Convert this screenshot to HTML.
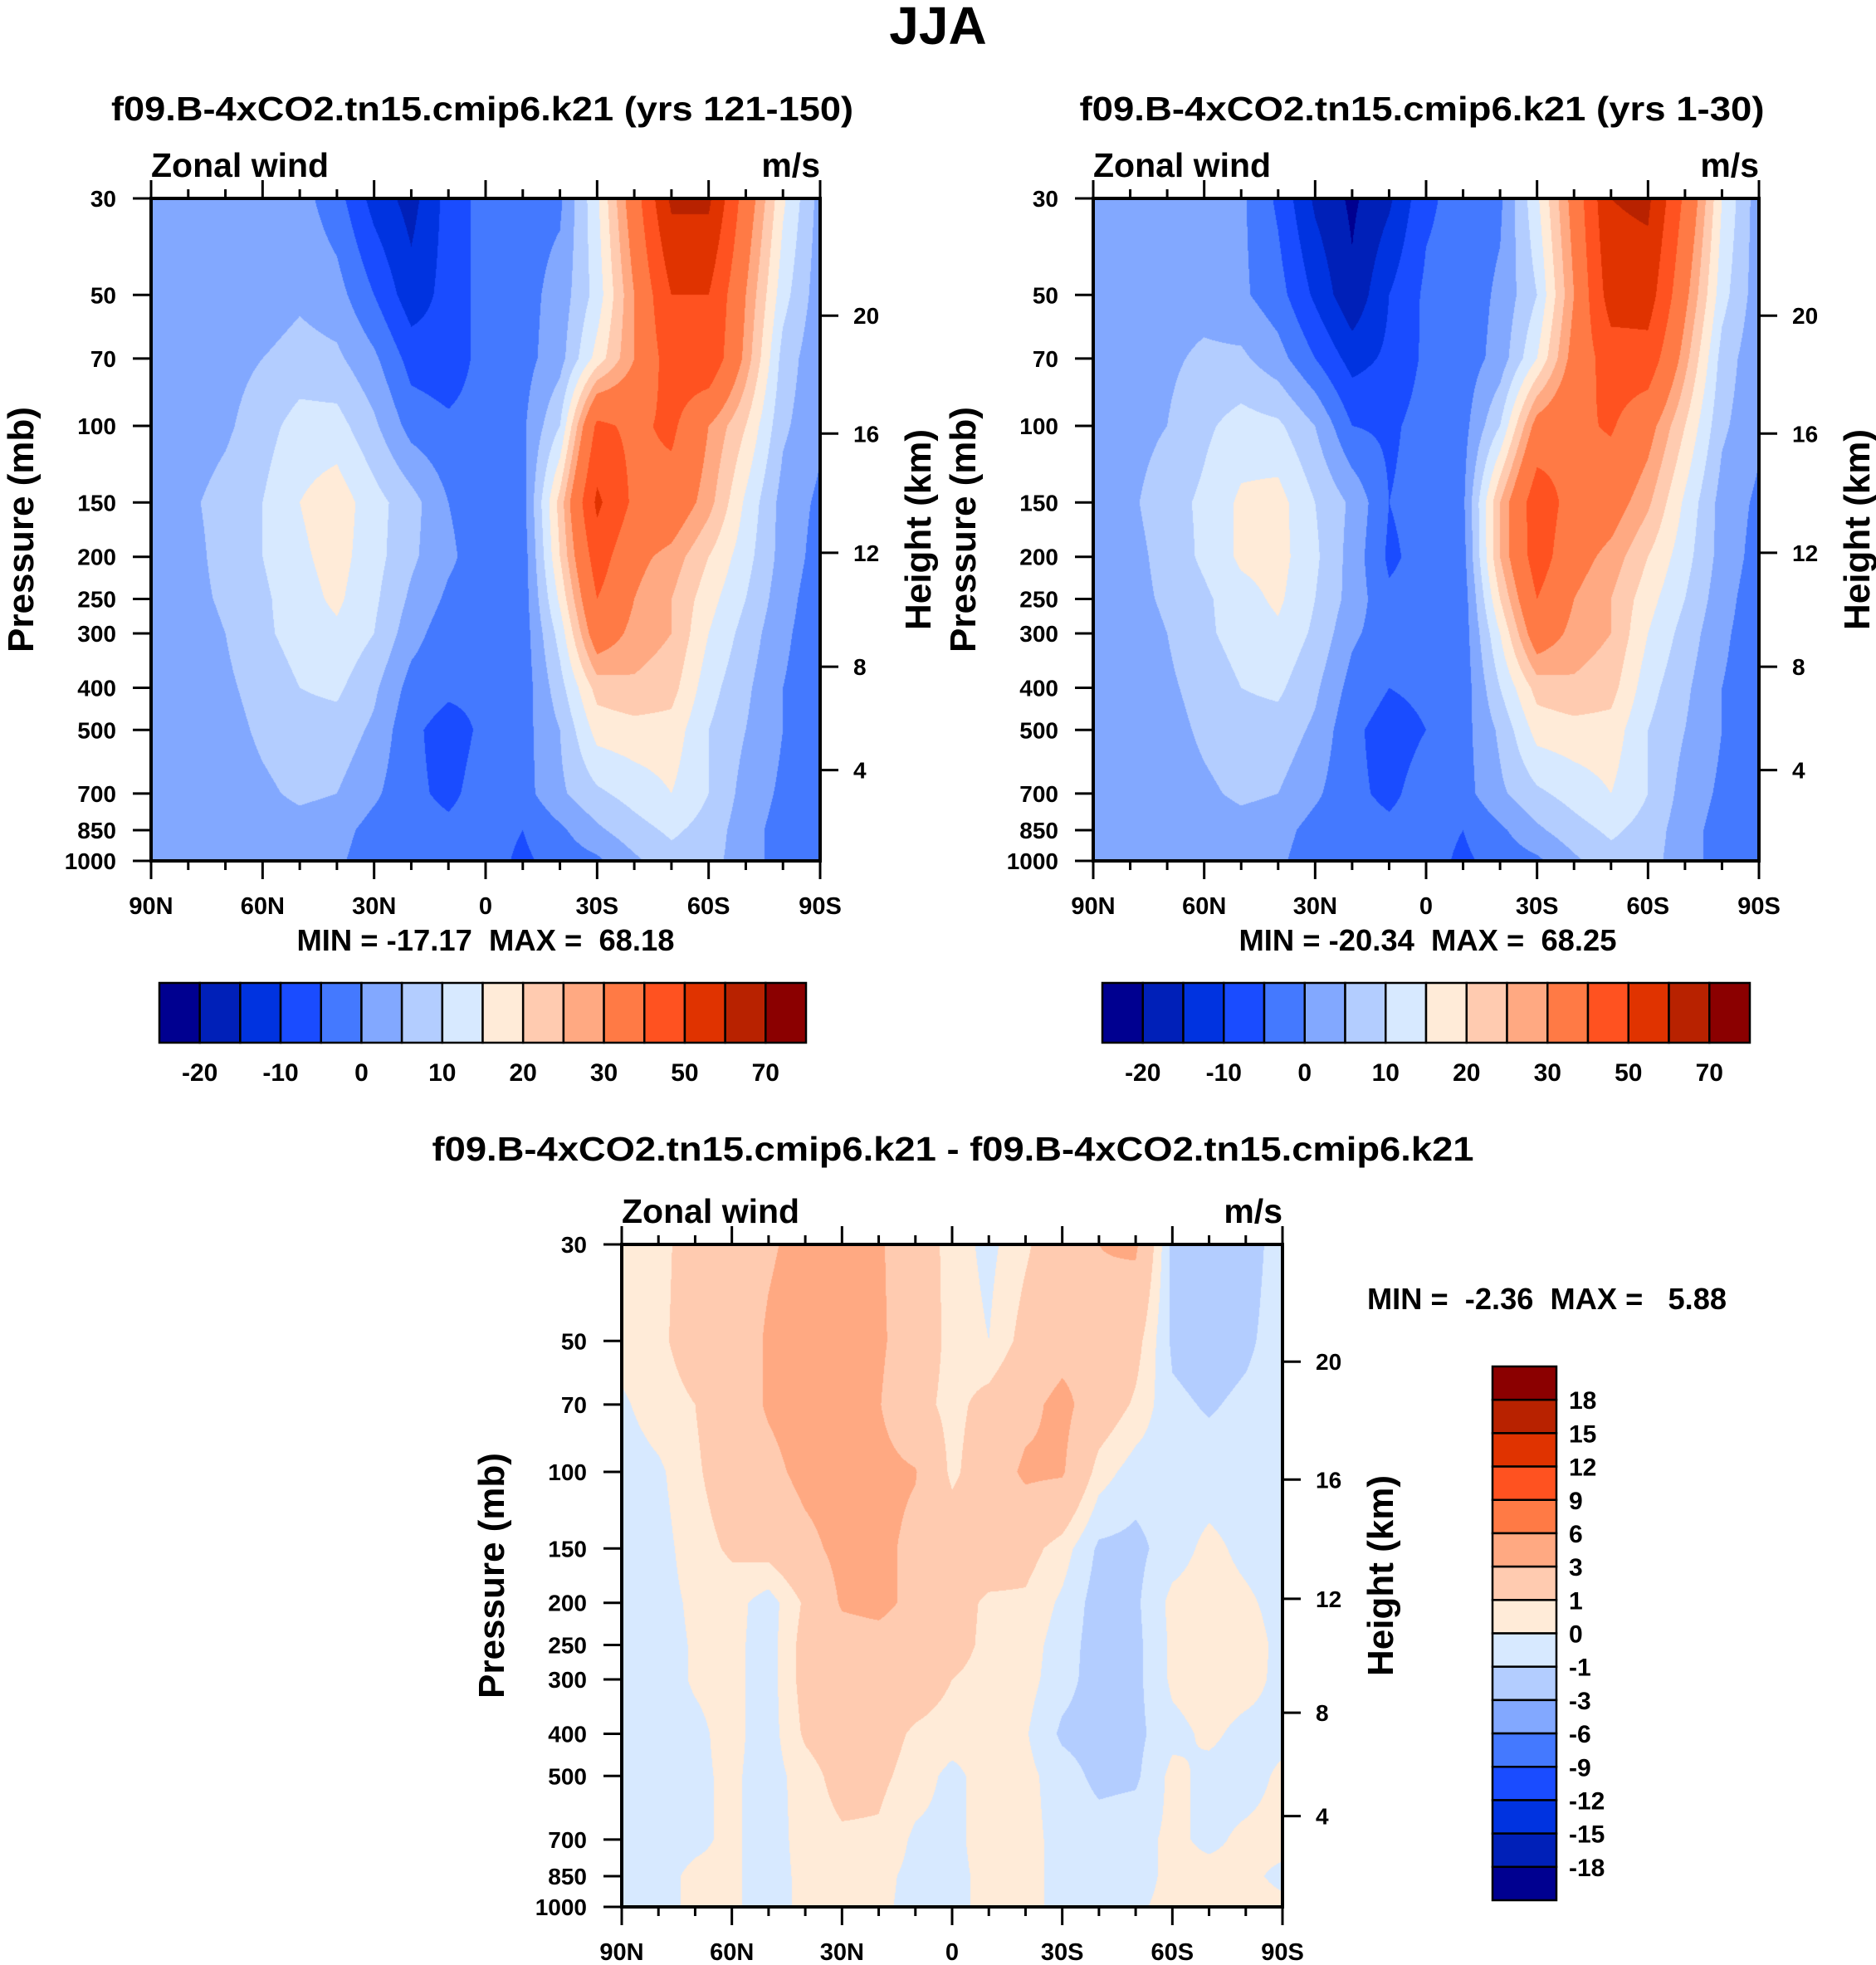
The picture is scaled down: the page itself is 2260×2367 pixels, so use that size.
<!DOCTYPE html>
<html><head><meta charset="utf-8">
<style>
html,body{margin:0;padding:0;background:#fff;}
#root{position:relative;width:2260px;height:2367px;overflow:hidden;background:#fff;}
canvas{position:absolute;}
svg{position:absolute;left:0;top:0;}
text{font-family:"Liberation Sans",Arial,sans-serif;font-weight:bold;fill:#000;white-space:pre;}
</style></head>
<body>
<div id="root">
<canvas id="c1"></canvas>
<canvas id="c2"></canvas>
<canvas id="c3"></canvas>
<svg id="svg" width="2260" height="2367">
<text x="1130" y="53" font-size="64" text-anchor="middle">JJA</text>
<text x="581" y="145" font-size="41" text-anchor="middle" textLength="894" lengthAdjust="spacingAndGlyphs">f09.B-4xCO2.tn15.cmip6.k21 (yrs 121-150)</text>
<text x="1713" y="145" font-size="41" text-anchor="middle" textLength="825" lengthAdjust="spacingAndGlyphs">f09.B-4xCO2.tn15.cmip6.k21 (yrs 1-30)</text>
<text x="1148" y="1398" font-size="41" text-anchor="middle" textLength="1255" lengthAdjust="spacingAndGlyphs">f09.B-4xCO2.tn15.cmip6.k21 - f09.B-4xCO2.tn15.cmip6.k21</text>
<text x="1647" y="1577" font-size="36" textLength="433" lengthAdjust="spacingAndGlyphs" xml:space="preserve">MIN =  -2.36  MAX =   5.88</text>
<text x="585" y="1145" font-size="36" text-anchor="middle" textLength="455" lengthAdjust="spacingAndGlyphs" xml:space="preserve">MIN = -17.17  MAX =  68.18</text>
<text x="1720" y="1145" font-size="36" text-anchor="middle" textLength="455" lengthAdjust="spacingAndGlyphs" xml:space="preserve">MIN = -20.34  MAX =  68.25</text>
</svg>
</div>
<script>
// ---------- data ----------
const lats = [90,80,70,60,50,40,30,20,10,0,-10,-20,-30,-40,-50,-60,-70,-80,-90];
const levels = [30,50,70,100,150,200,250,300,400,500,700,850,1000];
const latTickLabels = ['90N','60N','30N','0','30S','60S','90S'];
const latTickValues = [90,60,30,0,-30,-60,-90];
const presTickValues = [30,50,70,100,150,200,250,300,400,500,700,850,1000];
const heightTickLabels = ['20','16','12','8','4'];
const heightTickFrac = [0.177,0.355,0.535,0.707,0.863];

const topBounds = [-20,-15,-10,-5,0,5,10,15,20,25,30,40,50,60,70];
const topBarLabels = ['-20','-10','0','10','20','30','50','70'];
const diffBounds = [-18,-15,-12,-9,-6,-3,-1,0,1,3,6,9,12,15,18];
const diffBarLabels = ['-18','-15','-12','-9','-6','-3','-1','0','1','3','6','9','12','15','18'];
const palette = ['#000090','#0020b8','#0033e0','#1a4cff','#4479ff','#82a8ff','#b3cdff','#d7e9ff','#ffebd8','#ffcbb0','#ffa982','#ff7a45','#ff5220','#e03300','#b82200','#8b0000'];

// panel 1: yrs 121-150 (rows = levels, cols = lats)
const u1 = [
[2,2,2,2,2,-3,-12,-17,-8,-3,-2,-1,14,35,62,62,35,16,3],
[2,2,2,2,4,2,-5,-13,-8,-3,-2,2,12,30,50,50,30,12,2],
[2,2,3,5,7,6,1,-7,-8,-3,-2,3,17,30,45,48,28,8,1],
[1,2,4,8,12,12,6,-2,-4,-3,-1,10,42,38,42,30,20,6,1],
[1,4,7,10,15,18,12,7,0,-3,-2,22,52,38,36,27,14,3,-1],
[0,3,7,10,14,17,12,6,1,-3,-3,20,45,32,28,20,12,3,-2],
[0,3,6,9,13,16,11,4,-1,-3,-3,16,40,30,25,17,10,2,-3],
[0,2,5,9,12,14,10,2,-3,-3,-3,12,35,28,25,15,8,1,-3],
[0,1,4,7,10,11,6,-2,-4,-4,-3,8,22,24,22,12,6,0,-3],
[0,1,3,6,8,8,4,-4,-7,-4,-2,5,17,18,18,10,5,0,-3],
[1,1,2,4,6,5,1,-4,-6,-3,-2,4,9,12,15,10,3,-1,-5],
[1,1,1,2,3,2,-2,-3,-4,-3,-5,-1,4,8,11,8,2,-2,-5],
[1,0,1,1,1,1,-3,-4,-4,-3,-6,-3,-1,4,8,7,2,-2,-5]
];
// panel 2: yrs 1-30
const u2 = [
[1.5,2,2,2,1,-6,-16,-21,-16,-6,-3,-1,14,33,60,62,38,15,2],
[2,2,3,3,1,-3,-11,-19,-10,-4,-3,1,10,30,55,55,32,12,2],
[2,2,4,6,6,2,-5,-12,-9,-4,-3,2,15,33,45,46,27,8,1],
[1,3,5,9,12,11,5,-5,-6,-3,-2,10,33,38,41,33,20,6,1],
[1,4,8,11,16,17,10,4,-5,-3,-1,25,46,36,34,26,14,3,-1],
[0,3,7,11,16,17,11,3,-6,-3,-2,25,45,33,28,20,12,3,-2],
[0,3,6,9,13,16,10,3,-4,-3,-3,20,40,30,25,17,10,2,-3],
[0,2,5,9,12,14,9,1,-3,-3,-3,15,35,28,25,15,8,1,-3],
[0,1,4,7,10,11,6,-2,-5,-4,-3,10,22,24,22,12,6,0,-3],
[0,1,3,6,8,8,4,-4,-7,-5,-2,6,17,18,18,10,5,0,-3],
[1,1,2,4,6,5,1,-4,-6,-3,-2,4,9,12,15,10,3,-1,-5],
[1,1,1,2,3,2,-2,-3,-4,-3,-5,-1,4,8,11,8,2,-2,-5],
[1,0,1,1,1,1,-3,-4,-4,-3,-6,-3,-1,4,8,7,2,-2,-5]
];
// panel 3: difference
const u3 = [
[0.5,0.7,1.5,2.2,2.8,3.5,3.8,3.2,2,0.5,-0.3,0.8,2,3,3.3,-1.3,-1.8,-1.5,-0.5],
[0.5,0.8,1.5,2,3.2,3.8,4,3.3,2,0.6,0,1.5,2.3,2.6,1.5,-1.2,-1.5,-1.2,-0.5],
[-0.2,0.6,1,2,3.2,3.8,3.5,3.1,1.5,0.6,1.5,2.5,3.5,2,0.8,-0.8,-1.1,-0.8,-0.5],
[-0.6,-0.2,0.8,1.8,2.5,3.5,3.8,3.5,3.1,0.7,2,3.3,3.2,0.5,-0.5,-0.6,-0.6,-0.6,-0.5],
[-0.6,-0.4,0.5,1.2,1.5,2.5,3.5,3.5,2.5,2,1.8,1.5,0.5,-1.2,-1.3,-0.5,0.3,-0.3,-0.6],
[-0.6,-0.4,0.2,0.4,-0.5,1.2,3.2,3.5,2.5,1.5,0.8,0.8,-0.2,-1.5,-1.2,0.3,0.5,0.2,-0.4],
[-0.6,-0.4,0.1,0.3,-0.5,1.5,2.2,2.3,2,1.5,0.7,0.5,-0.5,-1.5,-1.3,0.2,0.5,0.5,-0.3],
[-0.6,-0.4,0.1,0.3,-0.5,1.5,2.1,2.2,1.8,1,0.6,0.4,-0.6,-1.5,-1.3,0.2,0.5,0.4,-0.3],
[-0.6,-0.4,-0.2,0.3,-0.5,1.2,1.8,1.6,0.8,0.5,0.3,0.1,-1.2,-1.5,-1.3,-0.3,0.2,-0.3,-0.3],
[-0.6,-0.4,-0.2,0.2,-0.5,0.5,1.5,1.3,0.5,-0.3,0.5,0.3,-0.5,-1.3,-1.2,0.3,-0.3,-0.4,0.2],
[-0.6,-0.4,-0.2,0.2,-0.5,0.4,0.8,0.8,-0.2,-0.3,0.5,0.3,-0.3,-0.5,-0.3,0.2,-0.2,0.2,0.3],
[-0.6,-0.3,0.2,0.2,-0.5,0.3,0.4,0.3,-0.3,-0.3,0.3,0.3,-0.3,-0.5,-0.3,0.2,0.3,0.2,-0.2],
[-0.5,-0.3,0.2,0.2,-0.5,0.3,0.4,0.2,-0.3,-0.3,0.3,0.3,-0.3,-0.3,-0.1,0.2,0.3,0.3,0.2]
];

// ---------- geometry ----------
const panels = [
 {id:'c1', x:182, y:239, w:806, h:798, data:u1, bounds:topBounds, name:'panel1'},
 {id:'c2', x:1317, y:239, w:802, h:798, data:u2, bounds:topBounds, name:'panel2'},
 {id:'c3', x:749, y:1499, w:796, h:798, data:u3, bounds:diffBounds, name:'panel3'}
];
const LP0 = Math.log(30), LP1 = Math.log(1000);
function xOfLat(p, lat){ return p.x + (90-lat)/180*p.w; }
function yOfP(p, pr){ return p.y + (Math.log(pr)-LP0)/(LP1-LP0)*p.h; }
function hexRGB(h){ return [parseInt(h.slice(1,3),16),parseInt(h.slice(3,5),16),parseInt(h.slice(5,7),16)]; }
const palRGB = palette.map(hexRGB);
const logLev = levels.map(Math.log);

function drawField(p){
  const cv = document.getElementById(p.id);
  cv.width = p.w; cv.height = p.h;
  cv.style.left = p.x+'px'; cv.style.top = p.y+'px';
  const ctx = cv.getContext('2d');
  const img = ctx.createImageData(p.w, p.h);
  const nx = lats.length-1;
  for(let j=0;j<p.h;j++){
    const lp = LP0 + (j+0.5)/p.h*(LP1-LP0);
    let k=0; while(k<logLev.length-2 && lp>logLev[k+1]) k++;
    let fy = (lp-logLev[k])/(logLev[k+1]-logLev[k]); fy=Math.max(0,Math.min(1,fy));
    for(let i=0;i<p.w;i++){
      const fxAll = (i+0.5)/p.w*nx;
      let c = Math.min(nx-1, Math.floor(fxAll)); const fx = fxAll-c;
      const a = p.data[k][c]*(1-fx)+p.data[k][c+1]*fx;
      const b = p.data[k+1][c]*(1-fx)+p.data[k+1][c+1]*fx;
      const v = a*(1-fy)+b*fy;
      let idx=0; while(idx<p.bounds.length && v>=p.bounds[idx]) idx++;
      const col = palRGB[idx]; const o=(j*p.w+i)*4;
      img.data[o]=col[0]; img.data[o+1]=col[1]; img.data[o+2]=col[2]; img.data[o+3]=255;
    }
  }
  ctx.putImageData(img,0,0);
}
panels.forEach(drawField);

const svg = document.getElementById('svg');
const NS='http://www.w3.org/2000/svg';
function mk(tag, attrs){ const e=document.createElementNS(NS,tag); for(const k in attrs) e.setAttribute(k,attrs[k]); svg.appendChild(e); return e; }
function txt(s, attrs){ const e=mk('text',attrs); e.textContent=s; return e; }

panels.forEach(p=>{
  const fr = mk('rect',{x:p.x,y:p.y,width:p.w,height:p.h,fill:'none',stroke:'#000','stroke-width':4});
  
  
  lats.forEach(lat=>{
    const major = latTickValues.indexOf(lat)>=0;
    const L = major?22:11; const x = xOfLat(p,lat);
    const t1 = mk('line',{x1:x,x2:x,y1:p.y,y2:p.y-L,stroke:'#000','stroke-width':3});
    
    
    const t2 = mk('line',{x1:x,x2:x,y1:p.y+p.h,y2:p.y+p.h+L,stroke:'#000','stroke-width':3});
    
    
  });
  latTickValues.forEach((lat,i)=>{
    const t = txt(latTickLabels[i],{x:xOfLat(p,lat),y:p.y+p.h+64,'font-size':29,'text-anchor':'middle'});
    
    
  });
  presTickValues.forEach(pr=>{
    const y = yOfP(p,pr);
    const t = mk('line',{x1:p.x-22,x2:p.x,y1:y,y2:y,stroke:'#000','stroke-width':3});
    
    
    const l = txt(String(pr),{x:p.x-42,y:y+10,'font-size':28,'text-anchor':'end'});
    
    
  });
  heightTickFrac.forEach((f,i)=>{
    const y = p.y+f*p.h;
    const t = mk('line',{x1:p.x+p.w,x2:p.x+p.w+22,y1:y,y2:y,stroke:'#000','stroke-width':3});
    
    
    const l = txt(heightTickLabels[i],{x:p.x+p.w+40,y:y+10,'font-size':28});
    
    
  });
  const zw = txt('Zonal wind',{x:p.x,y:p.y-26,'font-size':41});
  
  
  const ms = txt('m/s',{x:p.x+p.w,y:p.y-26,'font-size':41,'text-anchor':'end'});
  
  
  const cy = p.y+p.h*0.5;
  const pl = txt('Pressure (mb)',{x:0,y:0,'font-size':44,'text-anchor':'middle',transform:`translate(${p.x-142},${cy}) rotate(-90)`});
  
  
  const hl = txt('Height (km)',{x:0,y:0,'font-size':44,'text-anchor':'middle',transform:`translate(${p.x+p.w+133},${cy}) rotate(-90)`});
  
  
});

// horizontal colorbars
[[192,971],[1328,2108]].forEach((cb,n)=>{
  const x0=cb[0], w=(cb[1]-cb[0])/16, y0=1184, h=72;
  palette.forEach((c,i)=>{
    const r = mk('rect',{x:x0+i*w,y:y0,width:w,height:h,fill:c,stroke:'#000','stroke-width':2.5});
    
    
  });
  topBarLabels.forEach((s,i)=>{
    const t = txt(s,{x:x0+(1+2*i)*w,y:1302,'font-size':30,'text-anchor':'middle'});
    
    
  });
});
// vertical colorbar
(function(){
  const x0=1798, w=77, y0=1646, h=(2289-1646)/16;
  palette.slice().reverse().forEach((c,i)=>{
    const r = mk('rect',{x:x0,y:y0+i*h,width:w,height:h,fill:c,stroke:'#000','stroke-width':2.5});
    
    
  });
  diffBarLabels.slice().reverse().forEach((s,i)=>{
    const t = txt(s,{x:1890,y:y0+(i+1)*h+11,'font-size':30});
    
    
  });
})();
</script>
</body></html>
